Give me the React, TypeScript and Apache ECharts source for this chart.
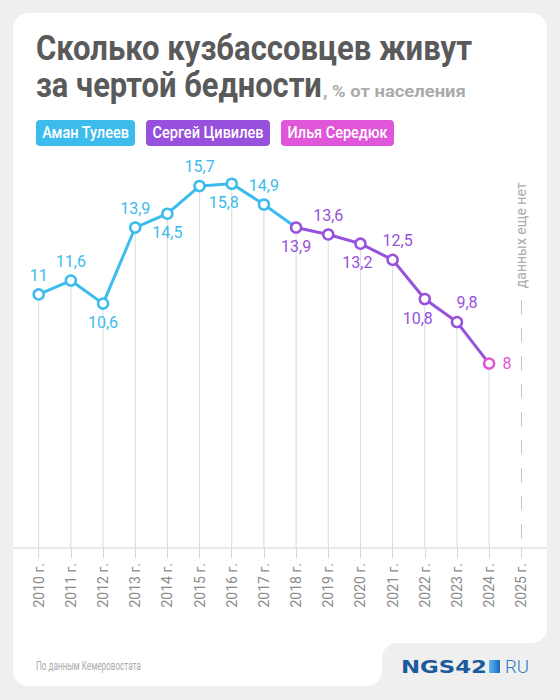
import React, { useEffect, useRef } from 'react';
import * as echarts from 'echarts';

// ---------- data ----------
const years = [
  '2010 г.', '2011 г.', '2012 г.', '2013 г.', '2014 г.', '2015 г.', '2016 г.', '2017 г.',
  '2018 г.', '2019 г.', '2020 г.', '2021 г.', '2022 г.', '2023 г.', '2024 г.', '2025 г.',
];
const povertyShare = [11, 11.6, 10.6, 13.9, 14.5, 15.7, 15.8, 14.9, 13.9, 13.6, 13.2, 12.5, 10.8, 9.8, 8];
const governors = ['Аман Тулеев', 'Сергей Цивилев', 'Илья Середюк'];
const governorFirstYear = [0, 8, 14]; // index in years where each governor's points begin
const titleLines = ['Сколько кузбассовцев живут', 'за чертой бедности'];
const titleUnit = ', % от населения';
const noDataNote = 'данных еще нет';
const sourceNote = 'По данным Кемеровостата';
const logoMain = 'NGS42';
const logoTail = 'RU';

// ---------- styles ----------
const COLORS = ['#3cbcec', '#9751dc', '#e056d8'];
const TITLE_COLOR = '#5a5a5a';
const FONT = 'Roboto, "Noto Sans", sans-serif';
const labelSide = ['top', 'top', 'bottom', 'top', 'bottom', 'top', 'bottom', 'top', 'bottom', 'top', 'bottom', 'top', 'bottom', 'top', 'right'];
const labelShift: Record<number, number> = { 6: -8, 10: -3, 11: 5, 12: -7, 13: 10 };
const NO_DATA_TOP = 10.75;

let measureCtx: CanvasRenderingContext2D | null = null;
function textWidth(text: string, font: string): number {
  if (!measureCtx) measureCtx = document.createElement('canvas').getContext('2d');
  measureCtx!.font = font;
  return measureCtx!.measureText(text).width;
}

function fitted(text: string, font: string, fill: string, x: number, y: number, width: number, align = 'left') {
  const w = textWidth(text, font);
  return {
    type: 'text',
    x,
    y,
    scaleX: width / w,
    z: 20,
    silent: true,
    style: { text, font, fill, align, verticalAlign: 'middle', textAlign: align, textVerticalAlign: 'middle' },
  };
}

export default function App() {
  const ref = useRef<HTMLDivElement>(null);

  useEffect(() => {
    if (!ref.current) return;
    const chart = echarts.init(ref.current, undefined, { renderer: 'svg' });

    const fmt = (p: any) => String(p.value).replace('.', ',');

    const lineSeries = governors.map((name, g) => {
      const start = governorFirstYear[g];
      const nextStart = g + 1 < governorFirstYear.length ? governorFirstYear[g + 1] : povertyShare.length;
      const lineEnd = Math.min(nextStart, povertyShare.length - 1);
      const data = years.map((_, i) => {
        if (i < start || i > lineEnd || i >= povertyShare.length) return '-';
        const v = povertyShare[i];
        if (i >= nextStart) return { value: v, symbol: 'none', label: { show: false } };
        return {
          value: v,
          label: {
            position: labelSide[i],
            offset: [labelShift[i] || 0, 0],
            distance: labelSide[i] === 'right' ? 7 : 5,
          },
        };
      });
      const s: any = {
        type: 'line',
        name,
        data,
        symbol: 'circle',
        symbolSize: 10,
        showAllSymbol: true,
        connectNulls: false,
        lineStyle: { color: COLORS[g], width: 3 },
        itemStyle: { color: '#ffffff', borderColor: COLORS[g], borderWidth: 2.5 },
        label: { show: true, color: COLORS[g], fontSize: 16, fontFamily: FONT, formatter: fmt },
        emphasis: { disabled: true },
        z: 3 + g,
      };
      if (g === 0) {
        s.markLine = {
          silent: true,
          symbol: 'none',
          label: { show: false },
          lineStyle: { color: '#c4c4c4', width: 1, type: [14, 14] },
          data: [[{ coord: [years[years.length - 1], NO_DATA_TOP] }, { coord: [years[years.length - 1], 0] }]],
        };
      }
      return s;
    });

    const dropLines = {
      type: 'custom',
      silent: true,
      z: 1,
      data: povertyShare.map((v, i) => [i, v]),
      encode: { x: 0, y: 1 },
      renderItem: (_params: any, api: any) => {
        const top = api.coord([api.value(0), api.value(1)]);
        const bot = api.coord([api.value(0), 0]);
        return {
          type: 'line',
          shape: { x1: top[0], y1: top[1], x2: bot[0], y2: bot[1] },
          style: { stroke: '#dadada', lineWidth: 1 },
        };
      },
    };

    chart.setOption({
      animation: false,
      backgroundColor: '#efefef',
      grid: { left: 38.7, right: 38.7, top: 133, bottom: 152 },
      xAxis: {
        type: 'category',
        data: years,
        boundaryGap: false,
        axisLine: { show: false },
        axisTick: { show: true, length: 10, interval: 0, lineStyle: { color: '#d6d6d6' } },
        axisLabel: { rotate: 90, interval: 0, margin: 15, color: '#8a8a8a', fontSize: 14, fontFamily: FONT },
        splitLine: { show: false },
      },
      yAxis: { type: 'value', min: 0, max: 18, show: false },
      series: [dropLines, ...lineSeries],
    });

    const [, y0] = chart.convertToPixel({ gridIndex: 0 } as any, [years[0], 0]) as number[];
    const [xLast, yTop] = chart.convertToPixel({ gridIndex: 0 } as any, [years[years.length - 1], NO_DATA_TOP]) as number[];

    const legendBoxes = [
      { x: 36, w: 99, tw: 87 },
      { x: 146, w: 124, tw: 111 },
      { x: 281, w: 113, tw: 100 },
    ];

    const graphic: any[] = [
      // card
      { type: 'rect', z: -10, silent: true, shape: { x: 13, y: 13, width: 534, height: 630, r: 15 }, style: { fill: '#ffffff' } },
      { type: 'rect', z: -10, silent: true, shape: { x: 13, y: 600, width: 369, height: 86, r: 15 }, style: { fill: '#ffffff' } },
      { type: 'rect', z: -10, silent: true, shape: { x: 382, y: 643, width: 15, height: 15 }, style: { fill: '#ffffff' } },
      { type: 'rect', z: -9, silent: true, shape: { x: 382, y: 643, width: 200, height: 80, r: [15, 0, 0, 0] }, style: { fill: '#efefef' } },
      // baseline
      { type: 'line', z: 0, silent: true, shape: { x1: 13, y1: y0, x2: 547, y2: y0 }, style: { stroke: '#d2d2d2', lineWidth: 1 } },
      // title
      fitted(titleLines[0], `bold 35px ${FONT}`, TITLE_COLOR, 36, 48, 436),
      fitted(titleLines[1], `bold 35px ${FONT}`, TITLE_COLOR, 36, 85, 286),
      fitted(titleUnit, `bold 17px ${FONT}`, '#ababab', 323, 91, 143),
      // legend
      ...legendBoxes.flatMap((b, i) => [
        { type: 'rect', z: 15, silent: true, shape: { x: b.x, y: 120, width: b.w, height: 26, r: 4 }, style: { fill: COLORS[i] } },
        fitted(governors[i], `500 16px ${FONT}`, '#ffffff', b.x + b.w / 2, 133, b.tw, 'center'),
      ]),
      // no-data note
      {
        type: 'text',
        x: xLast,
        y: yTop - 12,
        rotation: Math.PI / 2,
        z: 20,
        silent: true,
        style: { text: noDataNote, font: `14px ${FONT}`, fill: '#ababab', align: 'left', verticalAlign: 'middle', textAlign: 'left', textVerticalAlign: 'middle' },
      },
      // footer
      fitted(sourceNote, `12px ${FONT}`, '#ababab', 36, 666, 105),
      fitted(logoMain, 'bold 18px "DejaVu Sans", sans-serif', '#1b5a9c', 401, 667, 86),
      {
        type: 'rect',
        z: 20,
        silent: true,
        shape: { x: 489, y: 660, width: 11, height: 13 },
        style: {
          fill: new echarts.graphic.LinearGradient(0, 0, 1, 0, [
            { offset: 0, color: '#5cb9f0' },
            { offset: 0.5, color: '#3a93dc' },
            { offset: 1, color: '#1c66b8' },
          ]),
        },
      },
      fitted(logoTail, `300 18px ${FONT}`, '#2a78c6', 505, 667, 24),
    ];

    chart.setOption({ graphic });

    return () => chart.dispose();
  }, []);

  return <div ref={ref} style={{ position: 'fixed', left: 0, top: 0, width: 560, height: 700 }} />;
}
